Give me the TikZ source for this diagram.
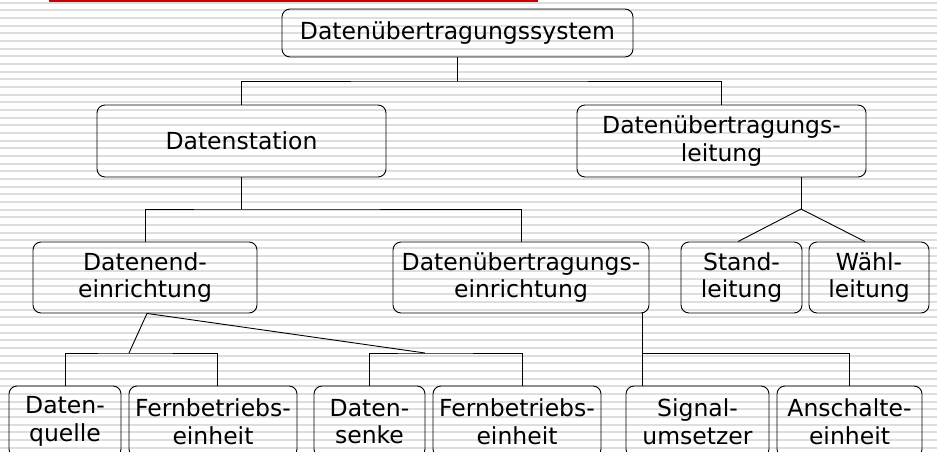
\documentclass[tikz,border=0pt]{standalone}
\usepackage{fontspec}
\setmainfont{DejaVu Sans}
\begin{document}
\begin{tikzpicture}[x=1pt,y=-1pt,line width=0.9pt,
  box/.style={draw,rounded corners=8pt,align=center,inner sep=0pt,
    font=\fontsize{23.5}{27.5}\selectfont},
  big/.style={box,minimum width=#1,minimum height=72pt},
  small/.style={box,minimum width=#1,minimum height=71pt},
  stripe/.style={black!13,line width=2pt}]
\useasboundingbox (0,0) rectangle (937,452);
\foreach \i in {0,...,58}
  \draw[stripe] (0,2.7+7.67*\i) -- (937,2.7+7.67*\i);
\fill[red!80!black] (49,0) rectangle (538,2.5);
\node [box,minimum width=351pt,minimum height=48pt] (sys) at (457.5,33) {Datenübertragungssystem};
\node [big=289pt] (stat) at (241.5,141) {Datenstation};
\node [big=289pt] (ltg) at (721.5,141) {Datenübertragungs-\\leitung};
\node [small=224pt] (dee) at (145,277.5) {Datenend-\\einrichtung};
\node [small=256pt] (due) at (521,277.5) {Datenübertragungs-\\einrichtung};
\node [small=121pt] (stand) at (741.5,277.5) {Stand-\\leitung};
\node [small=120pt] (waehl) at (869,277.5) {Wähl-\\leitung};
\node [small=112pt] (quelle) at (65,421.5) {Daten-\\quelle};
\node [small=168pt] (fern1) at (213,421.5) {Fernbetriebs-\\einheit};
\node [small=111pt] (senke) at (369.5,421.5) {Daten-\\senke};
\node [small=168pt] (fern2) at (517,421.5) {Fernbetriebs-\\einheit};
\node [small=143pt] (signal) at (697.5,421.5) {Signal-\\umsetzer};
\node [small=145pt] (anschalt) at (849.5,421.5) {Anschalte-\\einheit};
\coordinate (j1) at (457.5,81);
\coordinate (j2) at (241.5,209);
\coordinate (j3) at (801,209);
\coordinate (k1) at (129,353);
\coordinate (k2) at (425,353);
\coordinate (k3) at (642,353);
\draw (sys.south) -- (j1);
\draw (stat.north) |- (j1) -| (ltg.north);
\draw (stat.south) -- (j2);
\draw (dee.north) |- (j2) -| (due.north);
\draw (ltg.south -| j3) -- (j3);
\draw ([xshift=-3.5pt]stand.north) -- (j3) -- ([xshift=-4pt]waehl.north);
\draw (k1) -- ([xshift=2pt]dee.south) -- (k2);
\draw (quelle.north) |- (k1) -| ([xshift=4pt]fern1.north);
\draw (senke.north) |- (k2) -| ([xshift=5pt]fern2.north);
\draw (due.south -| k3) -- (signal.north -| k3);
\draw (k3) -| (anschalt.north);
\end{tikzpicture}
\end{document}
